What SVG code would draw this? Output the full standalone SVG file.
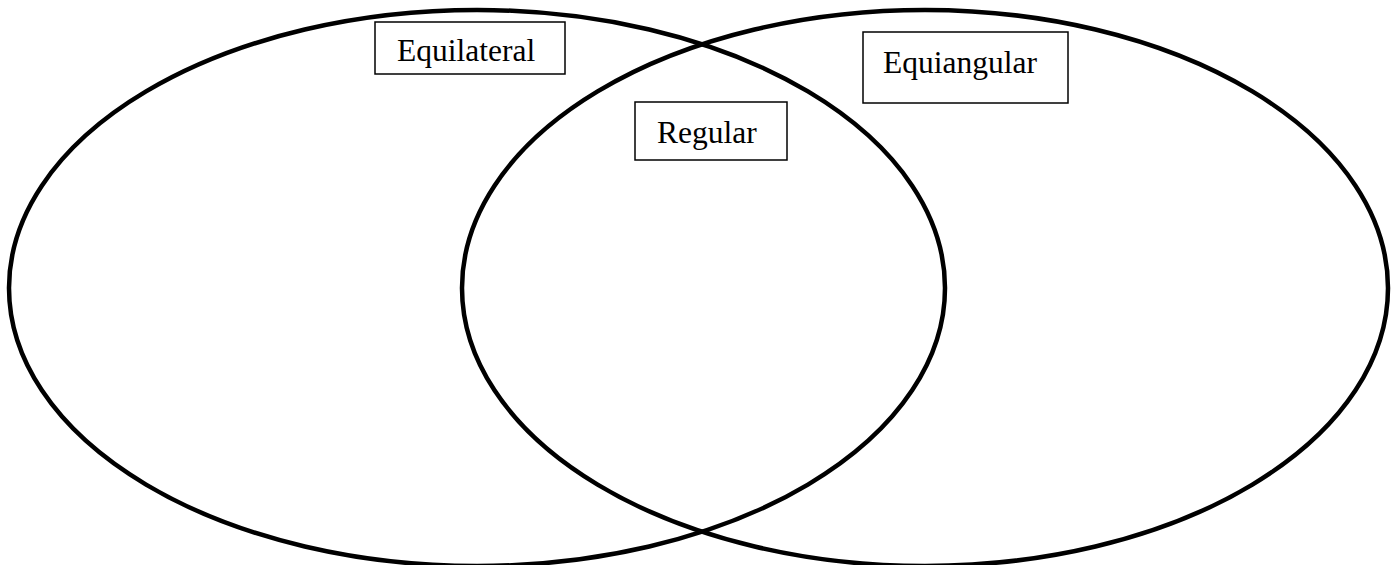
<svg xmlns="http://www.w3.org/2000/svg" width="1397" height="565" viewBox="0 0 1397 565">
<style>
.ell{fill:none;stroke:#000;stroke-width:4.5}
.box{fill:#fff;stroke:#000;stroke-width:1.5}
.lbl{font-family:"Liberation Serif",serif;font-size:31.5px;fill:#000}
</style>
<rect width="1397" height="565" fill="#fff"/>
<g id="equilateral-set"><ellipse class="ell" cx="477" cy="288" rx="468" ry="278"/></g>
<g id="equiangular-set"><ellipse class="ell" cx="925" cy="288" rx="463" ry="278"/></g>
<g id="equilateral-label"><rect class="box" x="375" y="22" width="190" height="52"/><text class="lbl" x="397" y="61">Equilateral</text></g>
<g id="equiangular-label"><rect class="box" x="863" y="32" width="205" height="71"/><text class="lbl" x="883" y="73">Equiangular</text></g>
<g id="regular-label"><rect class="box" x="635" y="102" width="152" height="58"/><text class="lbl" x="657" y="143">Regular</text></g>
<g id="connectors"/>
</svg>
